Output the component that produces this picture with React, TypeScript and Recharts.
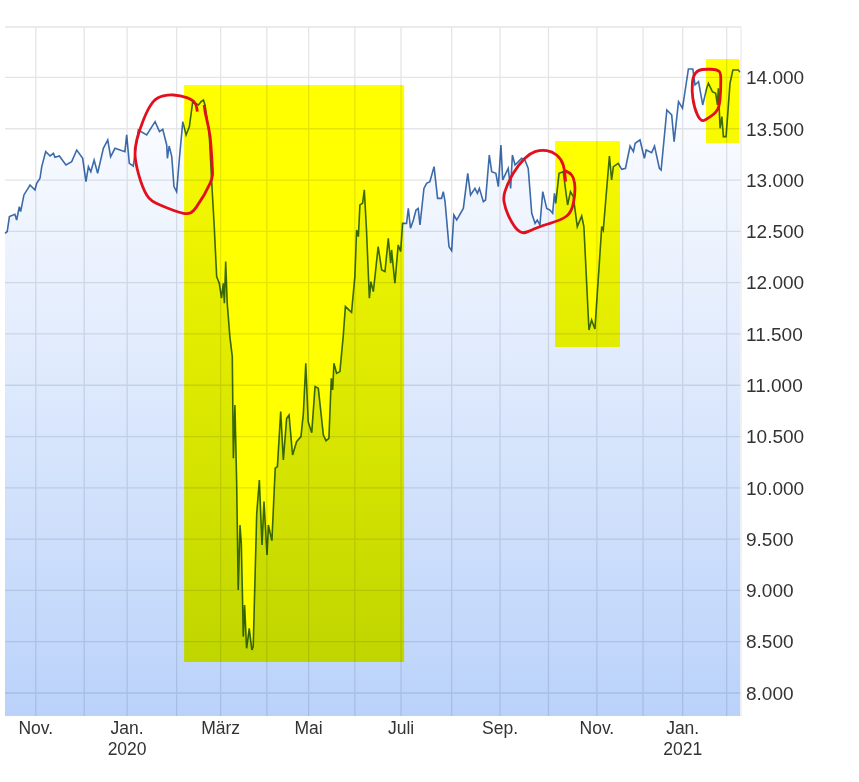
import {
  ComposedChart,
  Area,
  Scatter,
  XAxis,
  YAxis,
  CartesianGrid,
  ReferenceArea,
  ReferenceLine,
} from "recharts";

// trading session number and index close
const sessions = [
  0, 1, 2, 4.5, 5.3, 6.5, 7.1, 8.6, 11.4, 13.6, 14.4, 15.9, 16.7, 18.5, 20.5, 22, 22.7, 24.7, 27.7, 30.3,
  32.6, 35.3, 36.8, 37.9, 39, 40.5, 42.1, 44.7, 46.7, 48, 50, 54.5, 55.3, 56.5, 58.3, 60.6, 64.4, 68.2, 70.2, 71.7,
  73.5, 73.8, 74.6, 75.8, 76.8, 78, 79.2, 80.8, 82.3, 83.8, 85.3, 87.9, 89.1, 90.2, 90.9, 92.8, 93.9, 95.1, 96.2, 97.4,
  98.4, 99.2, 99.7, 100.3, 101, 102.2, 103.3, 103.8, 104.5, 105.3, 106, 106.8, 107.4, 108, 108.3, 108.9, 109.8, 111, 112.2, 112.8,
  114.4, 115.6, 116.8, 117.7, 119.1, 119.7, 121.3, 122.8, 123.8, 125.3, 126.5, 128, 129.1, 130.7, 132.5, 134.5, 135.6, 136.7, 137.8, 139.4,
  140.9, 142.4, 144.7, 145.9, 147.2, 148.3, 148.9, 149.5, 150.7, 152.2, 153.7, 154.7, 157.5, 159, 159.8, 160.6, 161.3, 162.5, 163.3, 164.3,
  165.6, 166.3, 167.4, 169.6, 171.2, 172.7, 174.2, 175.3, 175.7, 177.2, 178.7, 179.8, 180.7, 182.5, 183.3, 184.3, 185.6, 186.8, 187.8, 188.6,
  190.4, 191.6, 193.1, 195, 196.6, 198.4, 199.2, 200, 201.8, 203, 204, 205.3, 208.3, 210.3, 211.6, 213.6, 214.7, 215.6, 217.4, 218.4,
  220.1, 221.2, 223.1, 224.2, 225.4, 226.2, 228.7, 229.8, 230.6, 231.8, 234.8, 236.3, 237.8, 239.4, 240.9, 241.9, 243.1, 244.4, 246.2, 247.7,
  248.9, 249.7, 250.3, 251.8, 253.7, 255.7, 257, 258.3, 260.1, 262.1, 263.1, 265.4, 266.6, 268.1, 270.1, 271.2, 271.9, 274.7, 275.7, 276.5,
  278.7, 280.3, 282, 284.1, 285.6, 286.4, 288.6, 290.6, 291.4, 293.9, 295.2, 297.4, 298.2, 300.8, 303, 304.1, 306.1, 307.9, 310.6, 312.6,
  313.6, 315.2, 317.1, 318.9, 319.7, 321.5, 323, 323.8, 324.2, 325, 325.8, 326.5, 327.7, 329.5, 330.8, 333.3, 334.1,
];
const closes = [
  12481, 12498, 12644, 12666, 12611, 12741, 12692, 12855, 12952, 12903, 12968, 13017, 13131, 13277, 13235, 13261, 13222, 13235, 13147, 13180,
  13293, 13212, 12985, 13131, 13082, 13196, 13066, 13310, 13391, 13228, 13310, 13277, 13440, 13163, 13137, 13488, 13440, 13570, 13472, 13495,
  13342, 13212, 13332, 13228, 12936, 12887, 13196, 13570, 13440, 13521, 13764, 13732, 13764, 13780, 13732, 13456, 13001, 12546, 12059, 11994,
  11848, 11994, 11799, 12205, 11799, 11474, 11279, 10288, 10808, 10044, 9005, 9638, 9460, 8875, 8550, 8858, 8436, 8631, 8420, 8452,
  9752, 10077, 9443, 9866, 9346, 9638, 9485, 10191, 10207, 10743, 10272, 10678, 10710, 10320, 10450, 10499, 10727, 11214, 10645, 10538,
  10987, 10970, 10515, 10460, 10483, 11068, 10954, 11214, 11117, 11133, 11474, 11767, 11711, 12059, 12514, 12449, 12758, 12774, 12904, 12514,
  11848, 12010, 11913, 12351, 12124, 12108, 12433, 12189, 12319, 11994, 12368, 12303, 12579, 12578, 12724, 12530, 12611, 12708, 12724, 12562,
  12919, 12968, 12984, 13131, 12822, 12822, 12887, 12789, 12351, 12312, 12659, 12611, 12724, 13066, 12854, 12919, 12871, 12919, 12789, 12806,
  13244, 13082, 13066, 12936, 13342, 13001, 13114, 12919, 13244, 13147, 13212, 13196, 13114, 12676, 12578, 12611, 12562, 12887, 12724, 12708,
  12676, 12871, 12773, 13066, 13082, 12757, 12887, 12838, 12546, 12650, 12546, 11539, 11636, 11548, 12188, 12546, 12513, 13235, 13001, 13131,
  13163, 13105, 13115, 13332, 13277, 13358, 13391, 13212, 13293, 13267, 13332, 13115, 13098, 13683, 13635, 13375, 13764, 13700, 14083, 14083,
  13927, 13959, 13732, 13894, 13943, 13862, 13846, 13732, 13894, 13505, 13618, 13423, 13423, 13943, 14073, 14073, 14050,
];

// month starts on the session scale, labels only every second month
const monthTicks = [14, 36, 55.5, 78, 98, 119, 138, 159, 180, 203, 225, 247, 269, 290, 308, 328];
const monthLabels = ["Nov.", "", "Jan.", "", "März", "", "Mai", "", "Juli", "", "Sep.", "", "Nov.", "", "Jan.", ""];
const yearLabels = ["", "", "2020", "", "", "", "", "", "", "", "", "", "", "", "2021", ""];
const priceTicks = [8000, 8500, 9000, 9500, 10000, 10500, 11000, 11500, 12000, 12500, 13000, 13500, 14000];
const sessionRange = [0, 334.5];
const priceRange = [7776, 14492];

// yellow highlights: [from session, to session, low, high]
const highlightA = [81.4, 181.4, 8302, 13927];
const highlightB = [250, 279.5, 11373, 13381];
const highlightC = [318.6, 333.6, 13362, 14180];

// hand drawn red loops
const loopASessions = [87.4, 86.4, 82.6, 76.5, 72, 67.4, 62.9, 59.9, 59.1, 60.6, 64.4, 70.5, 81.1, 87.1, 93.2, 94.2, 93.2, 91.4, 90.5];
const loopAValues = [13667, 13748, 13803, 13829, 13820, 13764, 13586, 13391, 13245, 13066, 12855, 12757, 12676, 12741, 12968, 13131, 13423, 13618, 13732];
const loopBSessions = [254.8, 253.7, 250.7, 246.2, 240.9, 236.3, 231, 227.2, 226.8, 228.7, 234, 240.1, 247.7, 255.3, 258.3, 259, 257.5, 254.5];
const loopBValues = [12984, 13147, 13244, 13287, 13277, 13212, 13066, 12887, 12789, 12659, 12497, 12520, 12578, 12650, 12773, 12936, 13049, 13092];
const loopCSessions = [312.9, 315.2, 320.5, 324.7, 325.3, 324.4, 320.5, 317.4, 314.7, 312.6, 312.4, 312.9];
const loopCValues = [14008, 14067, 14080, 14057, 13943, 13716, 13618, 13579, 13635, 13797, 13943, 14008];

const data = sessions.map((s, i) => ({ s, v: closes[i] }));
const toLoop = (xs: number[], ys: number[]) => xs.map((s, i) => ({ s, v: ys[i] }));
const loops = [
  toLoop(loopASessions, loopAValues),
  toLoop(loopBSessions, loopBValues),
  toLoop(loopCSessions, loopCValues),
];
const highlights = [highlightA, highlightB, highlightC];

const FONT = "'Liberation Sans', Arial, sans-serif";
const GRID = "#e4e5e9";
const formatPrice = (v: number) => v.toLocaleString("de-DE");

function MonthTick({ x, y, payload }: any) {
  const i = monthTicks.indexOf(payload.value);
  return (
    <text x={x} y={y} textAnchor="middle" fontFamily={FONT} fontSize={17.5} fill="#333">
      <tspan x={x} dy={10}>{monthLabels[i]}</tspan>
      {yearLabels[i] && <tspan x={x} dy={21}>{yearLabels[i]}</tspan>}
    </text>
  );
}

const noDot = () => <g />;

export default function App() {
  return (
    <div style={{ position: "absolute", left: 0, top: 0, width: 859, height: 782 }}>
      <ComposedChart
        width={859}
        height={782}
        data={data}
        margin={{ top: 27, right: 0, bottom: 0, left: 5 }}
      >
        <defs>
          <linearGradient id="areaFill" x1="0" y1="0" x2="0" y2="1">
            <stop offset="0%" stopColor="#ffffff" />
            <stop offset="100%" stopColor="#bad2fa" />
          </linearGradient>
        </defs>
        <CartesianGrid stroke={GRID} strokeWidth={1.3} syncWithTicks />
        <ReferenceLine y={priceRange[1]} stroke={GRID} strokeWidth={1.3} />
        <ReferenceLine x={sessionRange[1]} stroke={GRID} strokeWidth={1} />
        <XAxis
          dataKey="s"
          type="number"
          domain={sessionRange}
          ticks={monthTicks}
          interval={0}
          height={66}
          axisLine={false}
          tickLine={false}
          tick={MonthTick}
        />
        <YAxis
          orientation="right"
          type="number"
          domain={priceRange}
          ticks={priceTicks}
          interval={0}
          width={118}
          axisLine={false}
          tickLine={false}
          tickSize={0}
          tickMargin={5}
          tickFormatter={formatPrice}
          tick={{ fontFamily: FONT, fontSize: 19, fill: "#333" }}
        />
        <Area
          dataKey="v"
          type="linear"
          stroke="#3d6cab"
          strokeWidth={1.6}
          fill="url(#areaFill)"
          fillOpacity={1}
          baseValue={priceRange[0]}
          style={{ mixBlendMode: "multiply" }}
          isAnimationActive={false}
        />
        {highlights.map((h, i) => (
          <ReferenceArea
            key={i}
            x1={h[0]}
            x2={h[1]}
            y1={h[2]}
            y2={h[3]}
            fill="#ffff00"
            fillOpacity={1}
            stroke="none"
            style={{ mixBlendMode: "multiply" }}
          />
        ))}
        {loops.map((loop, i) => (
          <Scatter
            key={i}
            data={loop}
            dataKey="v"
            line={{ stroke: "#e2101c", strokeWidth: 2.8, strokeLinejoin: "round" }}
            lineType="joint"
            lineJointType="natural"
            shape={noDot}
            isAnimationActive={false}
          />
        ))}
      </ComposedChart>
    </div>
  );
}
